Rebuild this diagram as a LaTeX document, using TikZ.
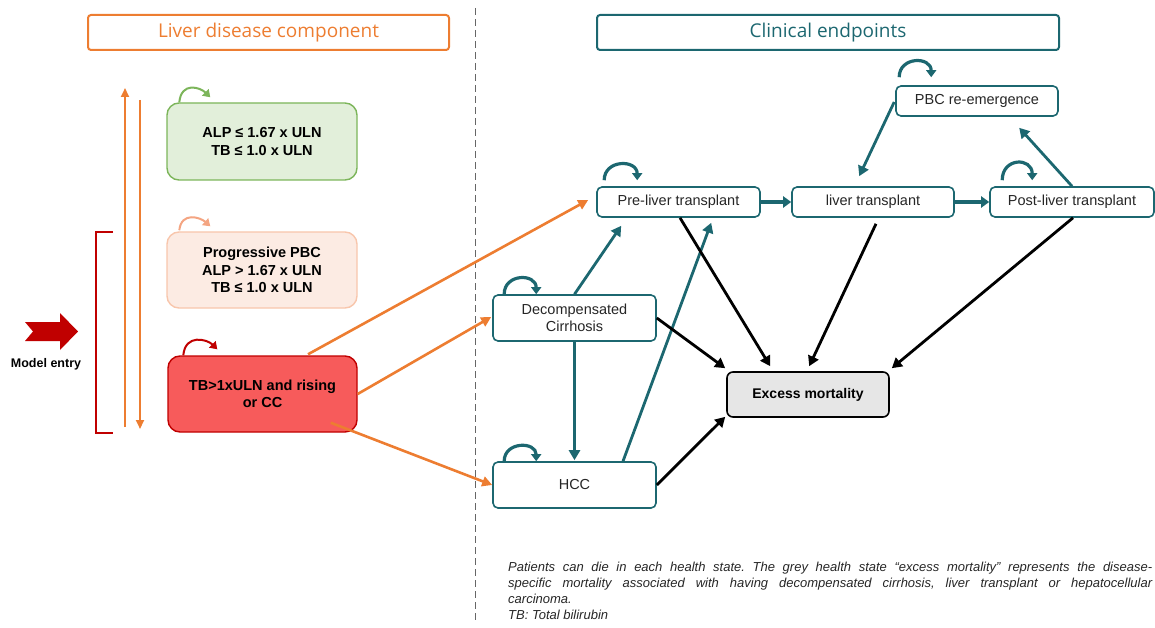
\documentclass[tikz,border=0pt]{standalone}
\usepackage{fontspec}
\setmainfont{Liberation Sans}
\newfontfamily\hdrfont{Open Sans}
\usetikzlibrary{arrows.meta,calc}
\definecolor{orng}{HTML}{ED7D31}
\definecolor{tealc}{HTML}{1C6770}
\definecolor{darkred}{HTML}{C00000}
\definecolor{redfill}{HTML}{F75B5B}
\definecolor{greenfill}{HTML}{E2EFDA}
\definecolor{greenline}{HTML}{7CB55A}
\definecolor{peachfill}{HTML}{FCEBE3}
\definecolor{peachline}{HTML}{F8C6AC}
\definecolor{peachloop}{HTML}{F4A582}
\definecolor{greyfill}{HTML}{E6E6E6}
\definecolor{txt}{HTML}{262626}
\begin{document}
\begin{tikzpicture}[x=1pt,y=-1pt,
  state/.style={draw=tealc, line width=1.6pt, fill=white, rounded corners=5pt, inner sep=0pt,
    align=center, font=\fontsize{14.5}{17}\selectfont, text=txt, minimum height=30pt},
  leftbox/.style={rounded corners=12pt, line width=1.4pt, minimum width=190pt, minimum height=77pt,
    align=center, font=\bfseries\fontsize{14.5}{17.5}\selectfont, inner sep=0pt, text=black},
  excess/.style={draw=black, fill=greyfill, line width=1.6pt, rounded corners=6pt, inner sep=0pt,
    minimum width=162pt, minimum height=45pt, font=\bfseries\fontsize{14}{17}\selectfont},
  header/.style={line width=2pt, rounded corners=3pt, inner sep=0pt, minimum height=35pt,
    font=\hdrfont\fontsize{19}{22}\selectfont},
  tarr/.style={draw=tealc, line width=2.8pt, -{Triangle[length=10pt,width=11pt]}},
  thickarr/.style={draw=tealc, line width=3.4pt, -{Triangle[length=8pt,width=11pt]}},
  barr/.style={draw=black, line width=2.8pt, -{Triangle[length=10pt,width=11pt]}},
  oarr/.style={draw=orng, line width=2.6pt, -{Triangle[length=10pt,width=10pt]}},
  loopt/.style={draw=tealc, line width=3.2pt, -{Triangle[length=7pt,width=10pt]}},
  loopl/.style={line width=2pt, -{Triangle[length=7pt,width=9pt]}},
]
\clip (0,0) rectangle (1155,628);

% headers
\node[header, draw=orng, text=orng, minimum width=361pt] (hl) at (268.5,32.5) {Liver disease component};
\node[header, draw=tealc, text=tealc, minimum width=462pt] (hr) at (828,32.5) {Clinical endpoints};

% separator
\draw[gray!80!black, line width=0.8pt, dash pattern=on 7pt off 4pt] (475,8) -- (475,620);

% left boxes
\node[leftbox, draw=greenline, fill=greenfill] (g) at (262,141.5) {ALP ≤ 1.67 x ULN\\TB ≤ 1.0 x ULN};
\node[leftbox, draw=peachline, fill=peachfill, minimum height=76pt] (p) at (262,270) {Progressive PBC\\ALP > 1.67 x ULN\\TB ≤ 1.0 x ULN};
\node[leftbox, draw=darkred, fill=redfill, minimum width=189pt, minimum height=76pt] (r) at (262.5,394) {TB>1xULN and rising\\or CC};

% left loops
\draw[loopl, draw=greenline] ($(g.north west)+(13,0)$) .. controls +(2,-21) and +(-10,-10) .. ($(g.north west)+(44,-5)$);
\draw[loopl, draw=peachloop] ($(p.north west)+(13,-1)$) .. controls +(2,-19) and +(-10,-9) .. ($(p.north west)+(44,-5)$);
\draw[loopl, draw=darkred] ($(r.north west)+(16,0)$) .. controls +(2,-22) and +(-10,-10) .. ($(r.north west)+(50,-6)$);

% vertical arrows and bracket
\coordinate (ua) at (125,427);
\coordinate (ub) at (125,88);
\coordinate (da) at (140,100);
\coordinate (db) at (140,429);
\draw[draw=orng, line width=2.2pt, -{Triangle[length=9pt,width=8pt]}] (ua) -- (ub);
\draw[draw=orng, line width=2.2pt, -{Triangle[length=9pt,width=8pt]}] (da) -- (db);
\draw[darkred, line width=2.4pt] (113,232) -- (96,232) -- (96,433) -- (113,433);

% model entry
\fill[darkred] (25,322) -- (60,322) -- (60,313) -- (78,331.5) -- (60,350) -- (60,341) -- (25,341) -- (33,331.5) -- cycle;
\node[font=\bfseries\fontsize{12.5}{14}\selectfont, inner sep=0pt] (me) at (46,364) {Model entry};

% right nodes
\node[state, minimum width=163pt] (pre) at (678.5,202) {Pre-liver transplant};
\node[state, minimum width=162pt] (lt) at (873,202) {liver transplant};
\node[state, minimum width=164pt] (post) at (1072,202) {Post-liver transplant};
\node[state, minimum width=162pt] (pbc) at (977,101) {PBC re-emergence};
\node[state, minimum width=163pt, minimum height=46pt] (dc) at (574.5,318) {Decompensated\\Cirrhosis};
\node[state, minimum width=163pt, minimum height=46pt] (hcc) at (574.5,485) {HCC};
\node[excess] (em) at (808,394.5) {Excess mortality};

% teal loops
\draw[loopt] ($(pre.north west)+(8,-6)$) .. controls +(0,-21) and +(0,-21) .. ($(pre.north west)+(41,-6)$);
\draw[loopt] ($(pbc.north west)+(4,-8)$) .. controls +(0,-21) and +(0,-21) .. ($(pbc.north west)+(36,-8)$);
\draw[loopt] ($(post.north west)+(13,-6)$) .. controls +(0,-23) and +(0,-23) .. ($(post.north west)+(43,-6)$);
\draw[loopt] ($(dc.north west)+(12,0)$) .. controls +(0,-21) and +(0,-21) .. ($(dc.north west)+(44,0)$);
\draw[loopt] ($(hcc.north west)+(12,0)$) .. controls +(0,-20) and +(0,-20) .. ($(hcc.north west)+(44,0)$);

% teal connectors
\draw[thickarr] (pre.east) -- (lt.west);
\draw[thickarr] (lt.east) -- (post.west);
\draw[tarr] ($(pbc.west)+(-1,1)$) -- ($(lt.north west)+(68,-10)$);
\draw[tarr] (post.north) -- ($(pbc.south west)+(124,11)$);
\draw[tarr] (dc.north) -- ($(pre.south west)+(25,8)$);
\draw[tarr] ($(hcc.north)+(48.5,0)$) -- ($(pre.south west)+(115,5)$);
\draw[tarr] (dc.south) -- ($(hcc.north)+(0,-1)$);

% black connectors
\draw[barr] ($(pre.south)+(1.5,0)$) -- ($(em.north west)+(44,-5)$);
\draw[barr] ($(lt.south)+(3,6)$) -- ($(em.north west)+(83,-5)$);
\draw[barr] ($(post.south)+(1,0)$) -- ($(em.north east)+(2,-3)$);
\draw[barr] (dc.east) -- ($(em.north west)+(-1,-3)$);
\draw[barr] (hcc.east) -- ($(em.south west)+(-1,-1)$);

% orange connectors
\draw[oarr] ($(r.north)+(45.5,-1)$) -- ($(pre.west)+(-8,-2)$);
\draw[oarr] (r.east) -- ($(dc.west)+(-1,-1)$);
\draw[oarr] ($(r.south east)+(-27,-10)$) -- (hcc.west);

% footnote
\node[anchor=base west, inner sep=0pt, text=txt] (note) at (508,571) {\parbox[t]{644pt}{\frenchspacing\itshape\fontsize{13}{16}\selectfont
Patients can die in each health state. The grey health state “excess mortality” represents the disease-\linebreak
specific mortality associated with having decompensated cirrhosis, liver transplant or hepatocellular\linebreak
carcinoma.\\
TB: Total bilirubin}};
\end{tikzpicture}
\end{document}
